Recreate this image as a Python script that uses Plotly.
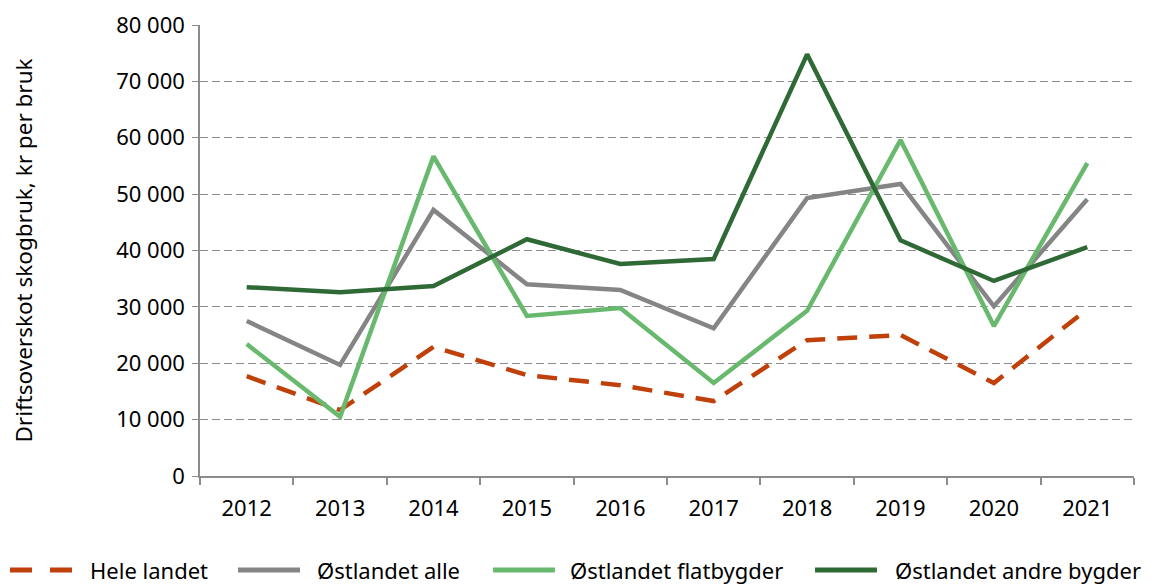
import plotly.graph_objects as go

years = ["2012", "2013", "2014", "2015", "2016", "2017", "2018", "2019", "2020", "2021"]

hele_landet = [17700, 11700, 22900, 17900, 16100, 13300, 24100, 25000, 16500, 29600]
ostlandet_alle = [27500, 19700, 47200, 34000, 33000, 26200, 49300, 51800, 30100, 49100]
ostlandet_flat = [23400, 10500, 56700, 28400, 29800, 16500, 29300, 59600, 26600, 55500]
ostlandet_andre = [33500, 32600, 33700, 42000, 37600, 38500, 74800, 41800, 34600, 40600]

series = [
    ("Hele landet", hele_landet, "#C0400A", "20px,12px"),
    ("Østlandet alle", ostlandet_alle, "#858585", "solid"),
    ("Østlandet flatbygder", ostlandet_flat, "#68B96E", "solid"),
    ("Østlandet andre bygder", ostlandet_andre, "#2F6A36", "solid"),
]

# the page body has an 8px margin, so the figure is a bit smaller than the window
W, H = 1146, 578
L, R, T, B = 192, 20, 17, 110
pw, ph = W - L - R, H - T - B

fig = go.Figure()
for name, vals, color, dash in series:
    fig.add_trace(go.Scatter(
        x=years, y=vals, name=name, mode="lines",
        line=dict(color=color, width=4.5, dash=dash),
    ))

# hand-made legend below the plot (longer line samples than plotly's own legend)
legend_x = [(2, 80), (230, 307), (485, 560), (807, 885)]  # (line start, text start), px in figure
leg_y = -(570 - 8 - (H - B)) / ph
for (x0, xt), (name, vals, color, dash) in zip(legend_x, series):
    fig.add_shape(type="line", xref="paper", yref="paper",
                  x0=(x0 - L) / pw, x1=(x0 + 62 - L) / pw, y0=leg_y, y1=leg_y,
                  line=dict(color=color, width=5, dash="22px,18px" if dash != "solid" else "solid"))
    fig.add_annotation(text=name, xref="paper", yref="paper", x=(xt - L) / pw, y=leg_y,
                       xanchor="left", yanchor="middle", showarrow=False,
                       font=dict(size=22))

font = "Noto Sans, Liberation Sans, sans-serif"
fig.update_layout(
    width=W, height=H,
    margin=dict(l=L, r=R, t=T, b=B, autoexpand=False),
    plot_bgcolor="white", paper_bgcolor="white",
    separators=", ",
    font=dict(family=font, size=22, color="#000"),
    showlegend=False,
    xaxis=dict(
        type="category", range=[-0.5, 9.5], tickson="boundaries",
        ticks="outside", ticklen=7, tickcolor="#8c8c8c", tickwidth=1.5,
        showline=True, linecolor="#8c8c8c", linewidth=1.5,
        showgrid=False, ticklabelstandoff=12,
    ),
    yaxis=dict(
        range=[0, 80000], dtick=10000, tickformat=",d",
        showgrid=True, gridcolor="#8c8c8c", griddash="8px,4px", gridwidth=1.3,
        showline=True, linecolor="#8c8c8c", linewidth=1.5,
        ticks="outside", ticklen=6, tickcolor="#8c8c8c", ticklabelstandoff=3,
        zeroline=False, automargin=False,
        title=dict(text="Driftsoverskot skogbruk, kr per bruk", font=dict(size=22.5), standoff=80),
    ),
)

fig.write_html("out.html")
